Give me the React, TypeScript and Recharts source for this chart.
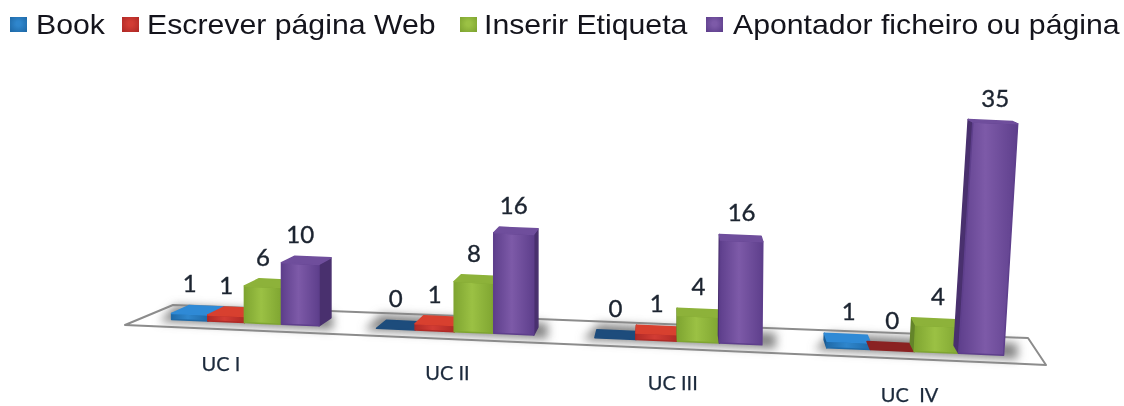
import React from "react";
import { BarChart, Bar, XAxis, YAxis, Legend, LabelList } from "recharts";

const categories = ["UC I", "UC II", "UC III", "UC  IV"];
const book = [1, 0, 0, 1];
const escrever = [1, 1, 1, 0];
const etiqueta = [6, 8, 4, 4];
const apontador = [10, 16, 16, 35];

const seriesNames = ["Book", "Escrever página Web", "Inserir Etiqueta", "Apontador ficheiro ou página"];

const data = categories.map((name, i) => ({
  name,
  [seriesNames[0]]: book[i],
  [seriesNames[1]]: escrever[i],
  [seriesNames[2]]: etiqueta[i],
  [seriesNames[3]]: apontador[i],
}));

const palette = [
  { edge: "#1f6aa8", mid: "#2f86cc", top: "#2f8ad6", side: "#1b5c94", flat: "#1d4c7c" },
  { edge: "#b02a26", mid: "#d23c34", top: "#d8402f", side: "#8e2020", flat: "#8a2222" },
  { edge: "#7fa531", mid: "#9bc144", top: "#8db23a", side: "#64842a", flat: "#64842a" },
  { edge: "#5e3f8c", mid: "#7d5aa8", top: "#6f4e9c", side: "#49306e", flat: "#49306e" },
];

const WIDTH = 1124;
const HEIGHT = 406;
const legendLeft = [10, 122, 460, 706];
const legendTextLeft = [36, 147, 484, 733];

// the original is a tilted 3D chart, so scale output is pushed through a perspective
const project = (x: number) => {
  const u = x / WIDTH;
  return 144 + 785 * u + 108 * u * u;
};
const floorY = (X: number) => 325 + 0.043 * (X - 300);
const growth = (X: number) => 0.95 + X * 0.00011;
const depthX = (X: number) => (650 - X) * (X < 650 ? 0.036 : 0.015);

function geometry(x: number, width: number, height: number) {
  const x1 = project(x);
  const x2 = project(x + width);
  const h = height * growth((x1 + x2) / 2);
  const lean = h * Math.max(0, ((x1 + x2) / 2 - 700) / 300) * 0.065;
  const depthY = 8 * (1 - h / 330);
  return { x1, x2, h, lean, depthY, b1: floorY(x1), b2: floorY(x2) };
}

const pts = (list: number[][]) => list.map((p) => p.join(",")).join(" ");

function Box(props: any, s: number) {
  const { x, width, height } = props;
  const { x1, x2, h, lean, depthY, b1, b2 } = geometry(x, width, height);
  const c = palette[s];
  const d1 = depthX(x1);
  const d2 = depthX(x2);
  const t1 = b1 - h;
  const t2 = b2 - h;
  const top = [
    [x1 + lean, t1],
    [x2 + lean, t2],
    [x2 + lean + d2, t2 - depthY],
    [x1 + lean + d1, t1 - depthY],
  ];
  const side =
    d2 > 0
      ? [[x2, b2], [x2 + d2, b2 - 8], [x2 + lean + d2, t2 - depthY], [x2 + lean, t2]]
      : [[x1, b1], [x1 + d1, b1 - 8], [x1 + lean + d1, t1 - depthY], [x1 + lean, t1]];
  const shadowEnd = project(x + width * 4);
  return (
    <g>
      {s === 0 && (
        <polygon
          points={pts([
            [x1 - 12, floorY(x1) + 2],
            [shadowEnd + 14, floorY(shadowEnd) + 4],
            [shadowEnd + 14, floorY(shadowEnd) - 12],
            [x1 + 4, floorY(x1) - 14],
          ])}
          fill="#858585"
          filter="url(#floorShadow)"
        />
      )}
      {h > 0 && (
        <polygon points={pts(side)} fill={c.side} stroke={c.side} strokeWidth={1.5} strokeLinejoin="round" />
      )}
      {h > 0 && (
        <polygon
          points={pts([[x1, b1], [x2, b2], [x2 + lean, t2], [x1 + lean, t1]])}
          fill={`url(#face${s})`}
          stroke={c.edge}
          strokeWidth={1.5}
          strokeLinejoin="round"
        />
      )}
      <polygon
        points={pts(top)}
        fill={h > 0 ? c.top : c.flat}
        stroke={h > 0 ? c.top : c.flat}
        strokeWidth={1.5}
        strokeLinejoin="round"
      />
    </g>
  );
}

function ValueLabel(props: any) {
  const { viewBox, value } = props;
  const { x1, x2, h, lean, depthY, b1, b2 } = geometry(viewBox.x, viewBox.width, viewBox.height);
  const cx = (x1 + x2) / 2 + lean;
  const top = (b1 + b2) / 2 - h - depthY;
  return (
    <text
      x={cx}
      y={top - 20}
      textAnchor="middle"
      dominantBaseline="middle"
      fontFamily="Lato"
      fontSize={24}
      fill="#1c2430"
      stroke="#1c2430"
      strokeWidth={0.4}
    >
      {value}
    </text>
  );
}

function CategoryTick(props: any) {
  const { x, payload } = props;
  const X = project(x);
  return (
    <text
      x={X - 4 - Math.max(0, (480 - X) * 0.08)}
      y={floorY(X) + 43 + Math.max(0, (X - 454) * 0.005)}
      textAnchor="middle"
      dominantBaseline="middle"
      fontFamily="Lato"
      fontSize={20}
      fill="#1c2a3c"
      stroke="#1c2a3c"
      strokeWidth={0.25}
      style={{ whiteSpace: "pre" }}
    >
      {payload.value}
    </text>
  );
}

function LegendRow() {
  return (
    <div style={{ position: "relative", width: WIDTH, height: 46 }}>
      {seriesNames.map((name, i) => (
        <React.Fragment key={name}>
          <span
            style={{
              position: "absolute",
              left: legendLeft[i],
              top: 17,
              width: 17,
              height: 15,
              background: `radial-gradient(circle at 50% 45%, ${palette[i].mid} 20%, ${palette[i].edge} 90%)`,
            }}
          />
          <span
            style={{
              position: "absolute",
              left: legendTextLeft[i],
              top: 10,
              fontFamily: "Liberation Sans",
              fontSize: 28,
              lineHeight: "30px",
              color: "#14141c",
              whiteSpace: "nowrap",
              transform: "scaleX(1.08)",
              transformOrigin: "left center",
            }}
          >
            {name}
          </span>
        </React.Fragment>
      ))}
    </div>
  );
}

export default function App() {
  return (
    <div style={{ position: "absolute", left: 0, top: 0, width: WIDTH, height: HEIGHT, background: "#fff", filter: "blur(0.4px)" }}>
      <BarChart
        width={WIDTH}
        height={HEIGHT}
        data={data}
        margin={{ top: 100, right: 0, bottom: 51, left: 0 }}
        barCategoryGap="14%"
        barGap={0}
      >
        <defs>
          <filter id="floorShadow" x="-20%" y="-100%" width="140%" height="300%">
            <feGaussianBlur stdDeviation="5" />
          </filter>
          {palette.map((c, i) => (
            <linearGradient key={i} id={`face${i}`} x1="0" y1="0" x2="1" y2="0">
              <stop offset="0%" stopColor={c.edge} />
              <stop offset="45%" stopColor={c.mid} />
              <stop offset="100%" stopColor={c.edge} />
            </linearGradient>
          ))}
        </defs>
        <polygon
          points="173,305 1028,338 1046,365 125,325"
          fill="#fff"
          stroke="#8c8c8c"
          strokeWidth={2}
          strokeLinejoin="round"
        />
        <XAxis dataKey="name" axisLine={false} tickLine={false} interval={0} height={30} tick={CategoryTick} />
        <YAxis hide domain={[0, 36]} />
        <Legend verticalAlign="middle" content={LegendRow} wrapperStyle={{ top: 0, left: 0, width: WIDTH }} />
        {seriesNames.map((name, s) => (
          <Bar
            key={name}
            dataKey={name}
            isAnimationActive={false}
            fill={palette[s].mid}
            shape={(p: any) => Box(p, s)}
          >
            <LabelList dataKey={name} content={ValueLabel} />
          </Bar>
        ))}
      </BarChart>
    </div>
  );
}
